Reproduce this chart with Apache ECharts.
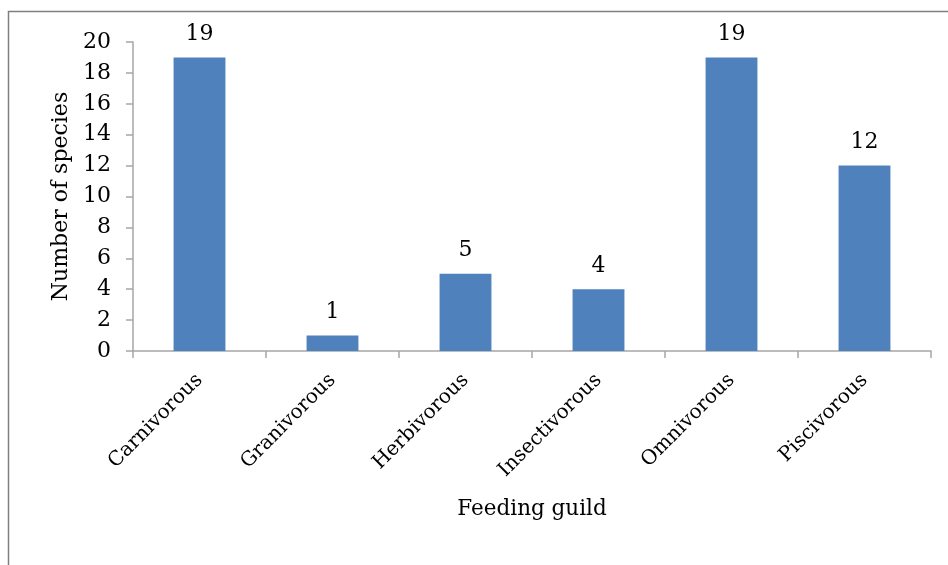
<!DOCTYPE html>
<html><head><meta charset="utf-8">
<script src="https://cdn.jsdelivr.net/npm/echarts@6/dist/echarts.min.js"></script>
<style>html,body{margin:0;padding:0;background:#fff}#c{width:948px;height:565px}</style>
</head><body><div id="c"></div>
<script>
const categories = ['Carnivorous','Granivorous','Herbivorous','Insectivorous','Omnivorous','Piscivorous'];
const speciesCounts = [19, 1, 5, 4, 19, 12];
const xAxisName = 'Feeding guild';
const yAxisName = 'Number of species';

const FONT = 'DejaVu Serif';
const chart = echarts.init(document.getElementById('c'), null, {renderer:'canvas'});
chart.setOption({
  animation: false,
  backgroundColor: '#fff',
  graphic: [{
    type: 'rect', silent: true, z: -10,
    shape: {x: 8.5, y: 11.5, width: 1000, height: 700},
    style: {fill: 'none', stroke: '#7f7f7f', lineWidth: 1.5}
  }],
  grid: {left: 133, right: 17, top: 42, bottom: 214, containLabel: false},
  xAxis: {
    type: 'category', data: categories,
    name: xAxisName, nameLocation: 'middle', nameGap: 147,
    nameTextStyle: {fontFamily: FONT, fontSize: 21.5, color: '#000'},
    axisLine: {lineStyle: {color: '#a6a6a6', width: 1.5}},
    axisTick: {show: true, alignWithLabel: false, length: 7, lineStyle: {color: '#a6a6a6', width: 1.5}},
    axisLabel: {rotate: 45, margin: 26, fontFamily: FONT, fontSize: 20, color: '#000', interval: 0}
  },
  yAxis: {
    type: 'value', min: 0, max: 20, interval: 2,
    name: yAxisName, nameLocation: 'middle', nameGap: 59,
    nameTextStyle: {fontFamily: FONT, fontSize: 22, color: '#000'},
    splitLine: {show: false},
    axisLine: {show: true, lineStyle: {color: '#a6a6a6', width: 1.5}},
    axisTick: {show: true, length: 7, lineStyle: {color: '#a6a6a6', width: 1.5}},
    axisLabel: {margin: 22, fontFamily: FONT, fontSize: 22, color: '#000'}
  },
  series: [{
    type: 'bar', data: speciesCounts, barWidth: '39%',
    itemStyle: {color: '#4f81bd'},
    label: {show: true, position: 'top', distance: 12, fontFamily: FONT, fontSize: 22, color: '#000'}
  }]
});
</script></body></html>
